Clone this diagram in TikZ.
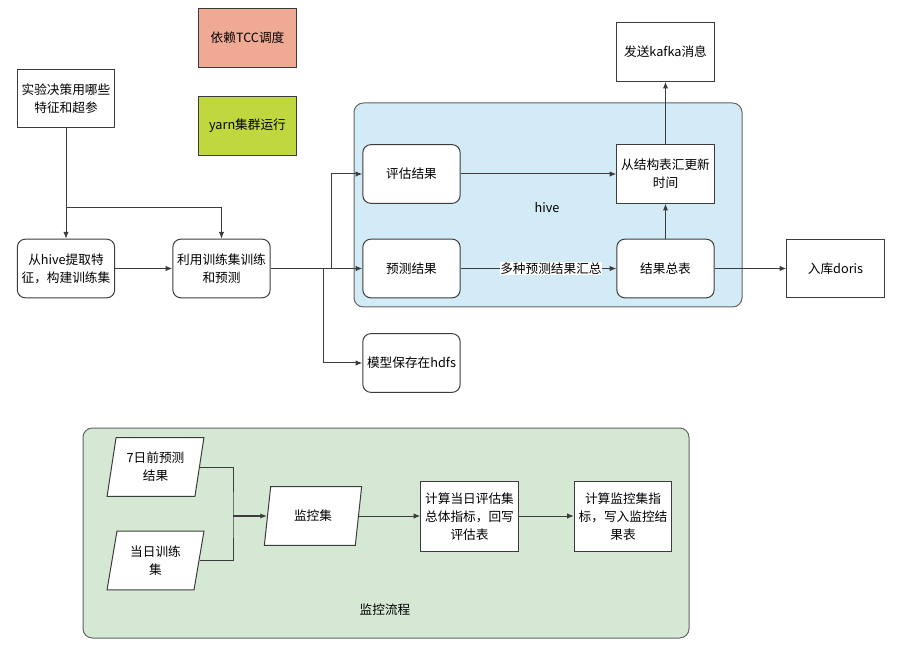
\documentclass[tikz,border=0pt]{standalone}
\usepackage{fontspec}
\setmainfont{Noto Sans CJK SC}
\usetikzlibrary{shapes.geometric,arrows.meta}
\definecolor{tccred}{HTML}{F0AA94}
\definecolor{yarngreen}{HTML}{C0D83E}
\definecolor{hiveblue}{HTML}{D3EBF6}
\definecolor{monigreen}{HTML}{D5E8D4}
\definecolor{linegray}{HTML}{3C3C3C}
\tikzset{
	box/.style={draw=linegray, line width=0.75pt, fill=white, minimum width=73pt, minimum height=44pt, align=center, inner sep=1pt, font=\fontsize{9.5}{13.5}\selectfont},
	rbox/.style={box, rounded corners=6pt},
	para/.style={box, trapezium, trapezium left angle=78, trapezium right angle=102, trapezium stretches=true},
	flow/.style={draw=linegray, line width=0.75pt, -{Latex[length=5pt,width=4pt]}},
	group/.style={draw=linegray!80, line width=0.75pt, rounded corners=7pt},
}
\begin{document}
\begin{tikzpicture}[x=0.75pt, y=-0.75pt]
	\useasboundingbox (0,0) rectangle (900,659);
	% containers
	\draw[group, fill=hiveblue] (354,103) rectangle (742,307);
	\node[font=\fontsize{9.5}{13.5}\selectfont] (hivelabel) at (547,208) {hive};
	\draw[group, fill=monigreen] (83,428) rectangle (689,638);
	\node[font=\fontsize{9.5}{13.5}\selectfont] (monilabel) at (385,610) {监控流程};
	% upper flow
	\node[box] (plan) at (66,98.5) {实验决策用哪些\\特征和超参};
	\node[box, fill=tccred] (tcc) at (247.5,38) {依赖TCC调度};
	\node[box, fill=yarngreen] (yarn) at (247.5,126) {yarn集群运行};
	\node[rbox] (feat) at (66,268.5) {从hive提取特\\征，构建训练集};
	\node[rbox] (train) at (221.5,268.5) {利用训练集训练\\和预测};
	\node[rbox] (evalres) at (411.5,174) {评估结果};
	\node[rbox] (predres) at (411.5,268.5) {预测结果};
	\node[rbox] (hdfs) at (411.5,363) {模型保存在hdfs};
	\node[box] (update) at (665.5,174) {从结构表汇更新\\时间};
	\node[rbox] (summary) at (665.5,268.5) {结果总表};
	\node[box] (kafka) at (665.5,52) {发送kafka消息};
	\node[box] (doris) at (835.5,268.5) {入库doris};
	\coordinate (split) at (66,208);
	\coordinate (upfork) at (331,268.5);
	\coordinate (downfork) at (323,268.5);
	\draw[flow] (plan) -- (feat);
	\draw[flow] (split) -| (train);
	\draw[flow] (feat) -- (train);
	\draw[flow] (train) -- (predres);
	\draw[flow] (upfork) |- (evalres);
	\draw[flow] (downfork) |- (hdfs);
	\draw[flow] (evalres) -- (update);
	\draw[flow] (predres) -- (summary) node[pos=0.58, fill=white, inner sep=0.5pt, font=\fontsize{9.5}{13.5}\selectfont] {多种预测结果汇总};
	\draw[flow] (summary) -- (update);
	\draw[flow] (update) -- (kafka);
	\draw[flow] (summary) -- (doris);
	% monitoring flow
	\node[para] (prev) at (155.5,467) {7日前预测\\结果};
	\node[para] (today) at (155.5,560.5) {当日训练\\集};
	\node[para] (moni) at (313,516) {监控集};
	\node[box, minimum height=53pt] (calcone) at (469.5,516.5) {计算当日评估集\\总体指标，回写\\评估表};
	\node[box, minimum height=53pt] (calctwo) at (623,516.5) {计算监控集指\\标，写入监控结\\果表};
	\coordinate (join) at (233,516);
	\draw[draw=linegray, line width=0.75pt] (prev.east) -| (join) |- (today.east);
	\draw[flow, line width=1.2pt] (join) -- (moni.west);
	\draw[flow] (moni.east) -- (calcone.west |- moni.east);
	\draw[flow] (calcone.east |- moni.east) -- (calctwo.west |- moni.east);
\end{tikzpicture}
\end{document}
